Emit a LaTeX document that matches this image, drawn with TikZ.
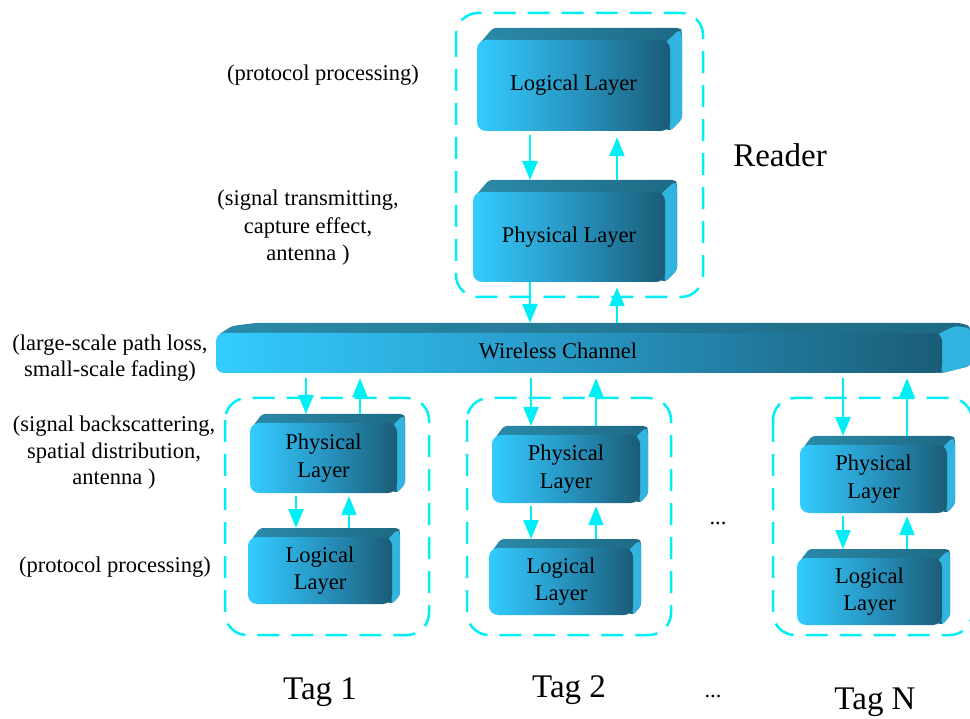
\documentclass[tikz,border=0pt]{standalone}
\usepackage{fontspec}
\setmainfont{Liberation Serif}
\usetikzlibrary{arrows.meta}
\definecolor{cL}{RGB}{51,204,255}
\definecolor{cM}{RGB}{40,150,195}
\definecolor{cD}{RGB}{26,92,118}
\definecolor{tL}{RGB}{42,138,168}
\definecolor{tD}{RGB}{30,105,132}
\definecolor{sideC}{RGB}{50,180,225}
\definecolor{cyanL}{RGB}{0,238,245}
\tikzset{
 front/.style={rounded corners=9pt, left color=cL, right color=cD, middle color=cM, inner sep=0pt, draw=none, font=\fontsize{22.5}{27.5}\selectfont, align=center},
 topf/.style={left color=tL, right color=tD, rounded corners=3pt},
 sidef/.style={fill=sideC, rounded corners=3pt},
 group/.style={draw=cyanL, line width=2.5pt, dash pattern=on 22pt off 12pt, rounded corners=22pt},
 arr/.style={draw=cyanL, line width=2.3pt, -{Triangle[width=15pt,length=19pt]}},
 note/.style={font=\fontsize{22.5}{26.5}\selectfont, align=center},
 big/.style={font=\fontsize{33}{36}\selectfont},
}
\newcommand{\layerbox}[8]{%
 \shade[topf] (#2+3,#3+3) -- (#2+#6+4,#3-#7) -- (#4+#6-2,#3-#7) -- (#4+#6,#3-#7+3) -- (#4+#6,#5-#7) -- (#4,#5) -- cycle;
 \fill[sidef] (#4-4,#3+2) -- (#4+#6-3,#3-#7+2) -- (#4+#6,#3-#7+5) -- (#4+#6,#5-#7) -- (#4,#5) -- cycle;
 \node[front, minimum width=#4-#2, minimum height=#5-#3] (#1) at ({(#2+#4)/2},{(#3+#5)/2}) {#8};
 \coordinate (#1t) at (#2,#3-#7);
}
\begin{document}
\begin{tikzpicture}[x=1pt,y=-1pt]
\clip (0,0) rectangle (970,719);
% group frames
\draw[group] (456,13) rectangle (703,297);
\draw[group] (225,398) rectangle (429,635);
\draw[group] (467,398) rectangle (671,635);
\draw[group] (773,398) rectangle (972,635);
% reader layers
\layerbox{rl}{477}{40}{670}{131}{12}{12}{Logical Layer}
\layerbox{rp}{473}{192}{665}{282}{12}{12}{Physical Layer}
% wireless channel
\shade[topf] (218,335) -- (232,326) -- (255,323) -- (960,323) -- (970,326) -- (970,366) -- (942,373) -- cycle;
\fill[sidef] (938,334) -- (955,326) -- (970,328) -- (970,366) -- (942,373) -- cycle;
\node[front, rounded corners=8pt, minimum width=726, minimum height=40] (wc) at (579,353) {};
\node[note] (wctext) at (558,351) {Wireless Channel};
\coordinate (wct) at (216,323);
% tags
\layerbox{t1p}{250}{423}{397}{493}{8}{9}{Physical\\Layer}
\layerbox{t1l}{248}{537}{392}{604}{8}{9}{Logical\\Layer}
\layerbox{t2p}{492}{435}{640}{503}{8}{9}{Physical\\Layer}
\layerbox{t2l}{489}{548}{633}{615}{8}{9}{Logical\\Layer}
\layerbox{tnp}{800}{445}{947}{513}{8}{9}{Physical\\Layer}
\layerbox{tnl}{797}{558}{942}{625}{8}{9}{Logical\\Layer}
% arrow columns
\coordinate (xa) at (530,0);
\coordinate (xb) at (617,0);
\coordinate (xc) at (306,0);
\coordinate (xd) at (360,0);
\coordinate (xe) at (296,0);
\coordinate (xf) at (349,0);
\coordinate (xg) at (531,0);
\coordinate (xh) at (596,0);
\coordinate (xi) at (843,0);
\coordinate (xj) at (907,0);
% reader arrows
\draw[arr, shorten <=4pt] (rl.south -| xa) -- (rpt -| xa);
\draw[arr, shorten >=6pt] (rpt -| xb) -- (rl.south -| xb);
\draw[arr] (rp.south -| xa) -- (wct -| xa);
\draw[arr, shorten >=5pt] (wct -| xb) -- (rp.south -| xb);
% tag 1 arrows
\draw[arr, shorten <=5pt] (wc.south -| xc) -- (t1pt -| xc);
\draw[arr, shorten >=5pt] (t1pt -| xd) -- (wc.south -| xd);
\draw[arr, shorten <=3pt] (t1p.south -| xe) -- (t1lt -| xe);
\draw[arr, shorten >=3pt] (t1lt -| xf) -- (t1p.south -| xf);
% tag 2 arrows
\draw[arr, shorten <=5pt] (wc.south -| xg) -- (t2pt -| xg);
\draw[arr, shorten >=5pt] (t2pt -| xh) -- (wc.south -| xh);
\draw[arr, shorten <=3pt] (t2p.south -| xg) -- (t2lt -| xg);
\draw[arr, shorten >=3pt] (t2lt -| xh) -- (t2p.south -| xh);
% tag N arrows
\draw[arr, shorten <=5pt] (wc.south -| xi) -- (tnpt -| xi);
\draw[arr, shorten >=5pt] (tnpt -| xj) -- (wc.south -| xj);
\draw[arr, shorten <=3pt] (tnp.south -| xi) -- (tnlt -| xi);
\draw[arr, shorten >=3pt] (tnlt -| xj) -- (tnp.south -| xj);
% texts
\node[big] (reader) at (780,155) {Reader};
\node[note] (pp1) at (323,75) {(protocol processing)};
\node[note, font=\fontsize{22.5}{27.5}\selectfont] (st) at (308,228) {(signal transmitting,\\capture effect,\\antenna )};
\node[note] (ls) at (110,358) {(large-scale path loss,\\small-scale fading)};
\node[note] (sb) at (114,453) {(signal backscattering,\\spatial distribution,\\antenna )};
\node[note] (pp2) at (115,567) {(protocol processing)};
\node[note] (dots1) at (718,523) {...};
\node[note] (dots2) at (713,696) {...};
\node[big] (tag1) at (320,692) {Tag 1};
\node[big] (tag2) at (569,690) {Tag 2};
\node[big] (tagn) at (875,702) {Tag N};
\end{tikzpicture}
\end{document}
